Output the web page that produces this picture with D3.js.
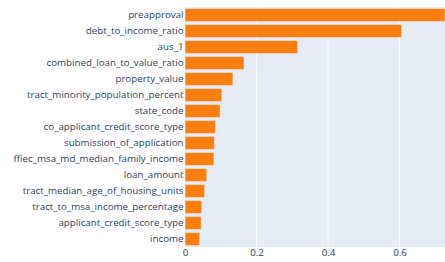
<!DOCTYPE html>
<html>
<head>
<meta charset="utf-8">
<script src="https://cdn.jsdelivr.net/npm/d3@7"></script>
<style>
  body { margin: 0; background: #fff; }
  svg { display: block; }
</style>
</head>
<body>
<script>
// feature importances, top to bottom
const features = [
  "preapproval",
  "debt_to_income_ratio",
  "aus_1",
  "combined_loan_to_value_ratio",
  "property_value",
  "tract_minority_population_percent",
  "state_code",
  "co_applicant_credit_score_type",
  "submission_of_application",
  "ffiec_msa_md_median_family_income",
  "loan_amount",
  "tract_median_age_of_housing_units",
  "tract_to_msa_income_percentage",
  "applicant_credit_score_type",
  "income"
];
const importance = [0.727, 0.606, 0.315, 0.165, 0.134, 0.103, 0.098, 0.085, 0.082, 0.081, 0.061, 0.055, 0.047, 0.045, 0.041];
const xTicks = [0, 0.2, 0.4, 0.6];

const width = 445;
const height = 262;
const margin = { top: 7, right: 0, bottom: 15, left: 185 };

const font = "'Open Sans', verdana, arial, sans-serif";
const textColor = "#2a3f5f";

const svg = d3
  .create("svg")
  .attr("width", width)
  .attr("height", height)
  .attr("viewBox", [0, 0, width, height]);

const x = d3
  .scaleLinear()
  .domain([0, d3.max(importance)])
  .range([margin.left, width - margin.right]);

const y = d3
  .scaleBand()
  .domain(features)
  .range([margin.top, height - margin.bottom])
  .paddingInner(0.2)
  .paddingOuter(0.1);

// plot background
svg
  .append("rect")
  .attr("x", margin.left)
  .attr("y", margin.top)
  .attr("width", width - margin.right - margin.left)
  .attr("height", height - margin.bottom - margin.top)
  .attr("fill", "#E5ECF6");

// vertical gridlines
svg
  .append("g")
  .attr("stroke", "#fff")
  .attr("stroke-width", 1)
  .selectAll()
  .data(xTicks.filter((d) => d > 0))
  .join("line")
  .attr("x1", (d) => x(d))
  .attr("x2", (d) => x(d))
  .attr("y1", margin.top)
  .attr("y2", height - margin.bottom);

// bars
const data = features.map((f, i) => ({ f, v: importance[i] }));
svg
  .append("g")
  .selectAll()
  .data(data)
  .join("rect")
  .attr("x", x(0))
  .attr("y", (d) => y(d.f))
  .attr("width", (d) => x(d.v) - x(0))
  .attr("height", y.bandwidth())
  .attr("fill", "#FF7F0E")
  .attr("stroke", "#E5ECF6")
  .attr("stroke-width", 0.5);

// y axis labels
const yAxis = svg
  .append("g")
  .attr("transform", `translate(${margin.left - 1.5},0)`)
  .call(d3.axisLeft(y).tickSize(0).tickPadding(0));
yAxis.select(".domain").remove();
yAxis
  .selectAll("text")
  .attr("font-family", font)
  .attr("font-size", 9.75)
  .attr("fill", textColor);

// x axis labels
const xAxis = svg
  .append("g")
  .attr("transform", `translate(0,${height - margin.bottom})`)
  .call(
    d3
      .axisBottom(x)
      .tickValues(xTicks)
      .tickFormat((d) => (d === 0 ? "0" : d3.format(".1f")(d)))
      .tickSize(0)
      .tickPadding(2.5)
  );
xAxis.select(".domain").remove();
xAxis
  .selectAll("text")
  .attr("font-family", font)
  .attr("font-size", 9.75)
  .attr("fill", textColor);

d3.select("body").append(() => svg.node());
</script>
</body>
</html>
